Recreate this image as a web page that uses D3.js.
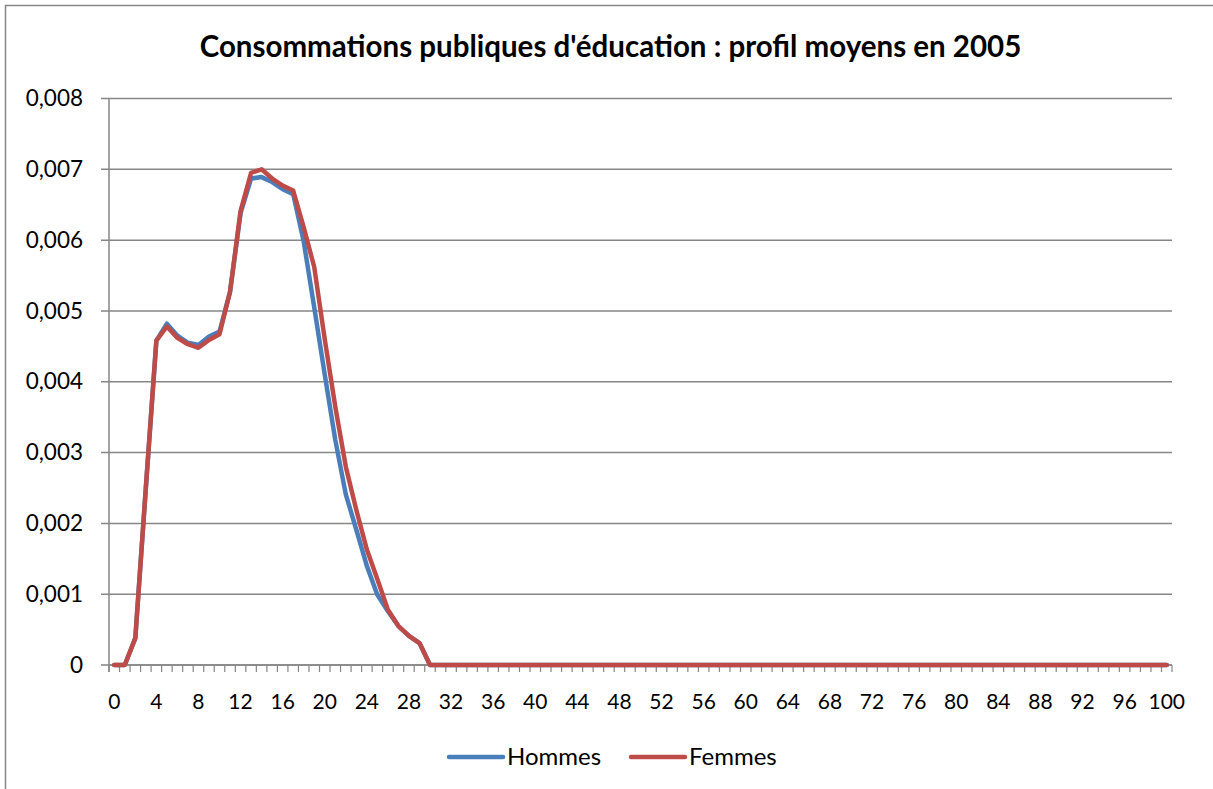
<!DOCTYPE html>
<html>
<head>
<meta charset="utf-8">
<script src="https://cdn.jsdelivr.net/npm/d3@7"></script>
<style>
  html, body { margin: 0; padding: 0; background: #fff; }
  svg { display: block; }
  text { font-family: Lato, "Open Sans", sans-serif; fill: #000; }
</style>
</head>
<body>
<svg id="chart" width="1213" height="789"></svg>
<script>
// Ages 0..100
const ages = d3.range(0, 101);

// Per-age profile values (ages 0..30, zero afterwards)
const hommesHead = [0, 0, 0.00038, 0.0025, 0.00458, 0.00482, 0.00465, 0.00455, 0.00452, 0.00464,
  0.00471, 0.00527, 0.00638, 0.00687, 0.00689, 0.00682, 0.00672, 0.00665, 0.00598, 0.00505,
  0.0041, 0.00318, 0.00241, 0.00191, 0.0014, 0.00099, 0.00076, 0.00055, 0.00041, 0.00031, 0];
const femmesHead = [0, 0, 0.00038, 0.0025, 0.00458, 0.00478, 0.00462, 0.00453, 0.00448, 0.00459,
  0.00467, 0.00527, 0.00641, 0.00695, 0.007, 0.00687, 0.00677, 0.0067, 0.00618, 0.00562,
  0.0046, 0.00365, 0.0028, 0.00219, 0.00163, 0.00121, 0.00078, 0.00055, 0.00041, 0.00031, 0];
const hommes = ages.map(a => a < hommesHead.length ? hommesHead[a] : 0);
const femmes = ages.map(a => a < femmesHead.length ? femmesHead[a] : 0);

const yTicks = [0, 0.001, 0.002, 0.003, 0.004, 0.005, 0.006, 0.007, 0.008];
const xLabelAges = ages.filter(a => a % 4 === 0);

const seriesNames = ["Hommes", "Femmes"];
const seriesColors = ["#4a7ebb", "#be4b48"];
const title = "Consommations publiques d'éducation : profil moyens en 2005";

const svg = d3.select("#chart");
const axisColor = "#868686";

// Outer frame (right and bottom edges fall outside the canvas)
svg.append("rect")
  .attr("x", 5.5).attr("y", 5.5).attr("width", 1215).attr("height", 790)
  .attr("fill", "#fff").attr("stroke", axisColor).attr("stroke-width", 1.5);

const plot = { left: 109, right: 1172, top: 98.5, bottom: 665 };

const x = d3.scaleBand().domain(ages).range([plot.left, plot.right]).padding(0);
const y = d3.scaleLinear().domain([0, 0.008]).range([plot.bottom, plot.top]);
const cx = a => x(a) + x.bandwidth() / 2;

const fmt = v => v === 0 ? "0" : d3.format(".3f")(v).replace(".", ",");

// Horizontal gridlines with small outward ticks
svg.append("g").selectAll("line").data(yTicks).join("line")
  .attr("x1", plot.left - 8).attr("x2", plot.right)
  .attr("y1", d => y(d)).attr("y2", d => y(d))
  .attr("stroke", axisColor).attr("stroke-width", 1.5);

// Y axis labels
svg.append("g")
  .attr("transform", `translate(${plot.left - 8},0)`)
  .call(d3.axisLeft(y).tickValues(yTicks).tickFormat(fmt).tickSize(0).tickPadding(18))
  .call(g => g.select(".domain").remove())
  .call(g => g.selectAll("text").style("font-size", "22.5px").attr("font-family", "Lato, sans-serif").attr("fill", "#000"));

// Vertical axis line
svg.append("line")
  .attr("x1", plot.left).attr("x2", plot.left)
  .attr("y1", plot.top).attr("y2", plot.bottom + 7)
  .attr("stroke", axisColor).attr("stroke-width", 1.5);

// Category boundary ticks
const bounds = ages.map(a => x(a)).concat([x(100) + x.bandwidth()]);
svg.append("g").selectAll("line").data(bounds).join("line")
  .attr("x1", d => d).attr("x2", d => d)
  .attr("y1", plot.bottom).attr("y2", plot.bottom + 7)
  .attr("stroke", axisColor).attr("stroke-width", 1.2);

// X axis labels (every 4 years)
svg.append("g")
  .attr("transform", `translate(0,${plot.bottom})`)
  .call(d3.axisBottom(x).tickValues(xLabelAges).tickSize(0).tickPadding(29))
  .call(g => g.select(".domain").remove())
  .call(g => g.selectAll("text").style("font-size", "21px").attr("font-family", "Lato, sans-serif").attr("fill", "#000"));

// Horizontal axis line
svg.append("line")
  .attr("x1", plot.left).attr("x2", plot.right)
  .attr("y1", plot.bottom).attr("y2", plot.bottom)
  .attr("stroke", axisColor).attr("stroke-width", 1.5);

// Series lines
const line = d3.line().x((d, i) => cx(ages[i])).y(d => y(d));
[hommes, femmes].forEach((vals, k) => {
  svg.append("path")
    .datum(vals)
    .attr("d", line)
    .attr("fill", "none")
    .attr("stroke", seriesColors[k])
    .attr("stroke-width", 4.5)
    .attr("stroke-linejoin", "round")
    .attr("stroke-linecap", "round");
});

// Title
svg.append("text")
  .attr("x", 610.5).attr("y", 57)
  .attr("text-anchor", "middle")
  .style("font-size", "29.5px").style("font-weight", "bold")
  .text(title);

// Legend
const legendItems = [{ x: 449 }, { x: 631 }];
seriesNames.forEach((name, k) => {
  const lx = legendItems[k].x;
  svg.append("line")
    .attr("x1", lx).attr("x2", lx + 54)
    .attr("y1", 757).attr("y2", 757)
    .attr("stroke", seriesColors[k]).attr("stroke-width", 4.5)
    .attr("stroke-linecap", "round");
  svg.append("text")
    .attr("x", lx + 58).attr("y", 765)
    .style("font-size", "24px")
    .text(name);
});
</script>
</body>
</html>
